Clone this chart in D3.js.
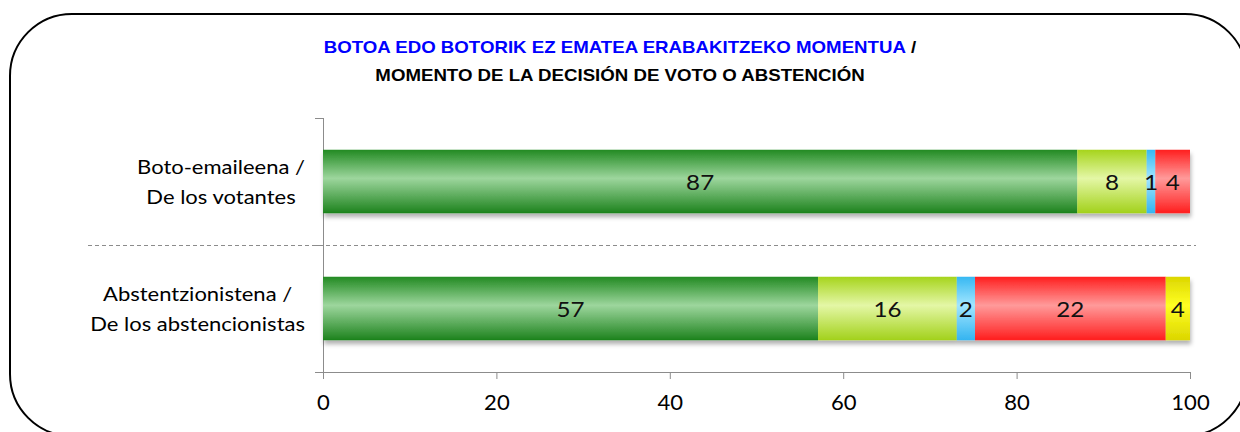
<!DOCTYPE html>
<html><head><meta charset="utf-8">
<script src="https://cdn.jsdelivr.net/npm/d3@7"></script>
<style>body{margin:0;background:#fff}svg{display:block}</style>
</head><body>
<svg id="c" width="1240" height="432"></svg>
<script>
const categories = [["Boto-emaileena /","De los votantes"],["Abstentzionistena /","De los abstencionistas"]];
const votantesValues = [87, 8, 1, 4];
const votantesLabels = ["87","8","1","4"];
const abstValues = [57.1, 16, 2.1, 22, 2.8];
const abstLabels = ["57","16","2","22","4"];
const xTicks = [0,20,40,60,80,100];
const titleBlue = "BOTOA EDO BOTORIK EZ EMATEA ERABAKITZEKO MOMENTUA";
const titleSep = " /";
const titleBlack = "MOMENTO DE LA DECISIÓN DE VOTO O ABSTENCIÓN";
const segColors = [
  ["#228a22","#9dd69d","#1c821c"],
  ["#a6d41c","#e4f7a6","#a2d11a"],
  ["#36b8f2","#a2e6ff","#34b4f0"],
  ["#ff1e1e","#ff9a9a","#ff1e1e"],
  ["#dcd600","#ffff22","#dcd600"]
];
const SX = 1.1; // horizontal stretch of the original picture's text
const LBL_FONT = "Lato, sans-serif";

const svg = d3.select("#c");
const defs = svg.append("defs");
segColors.forEach((c,i)=>{
  const g = defs.append("linearGradient").attr("id","g"+i).attr("x1",0).attr("y1",0).attr("x2",0).attr("y2",1);
  g.append("stop").attr("offset","0%").attr("stop-color",c[0]);
  g.append("stop").attr("offset","45%").attr("stop-color",c[1]);
  g.append("stop").attr("offset","100%").attr("stop-color",c[2]);
});
const f = defs.append("filter").attr("id","sh").attr("x","-5%").attr("y","-20%").attr("width","110%").attr("height","150%");
f.append("feDropShadow").attr("dx",1).attr("dy",4).attr("stdDeviation",2).attr("flood-color","#000").attr("flood-opacity",0.3);

function stretched(parent, x, y, sx){
  return parent.append("text").attr("transform",`translate(${x},${y}) scale(${sx},1)`);
}

// frame
svg.append("rect").attr("x",10).attr("y",14).attr("width",1237).attr("height",422).attr("rx",62).attr("ry",62)
  .attr("fill","none").attr("stroke","#000").attr("stroke-width",2);

// title
const t1 = stretched(svg,620,53,1.167).attr("text-anchor","middle")
  .attr("font-family","Liberation Sans, Arial, sans-serif").attr("font-weight","bold").attr("font-size",16);
t1.append("tspan").attr("fill","#0000ff").text(titleBlue);
t1.append("tspan").attr("fill","#000").text(titleSep);
stretched(svg,620,81,1.167).attr("text-anchor","middle")
  .attr("font-family","Liberation Sans, Arial, sans-serif").attr("font-weight","bold").attr("font-size",16).attr("fill","#000")
  .text(titleBlack);

const x = d3.scaleLinear().domain([0,100]).range([323,1190]);
const y = d3.scaleBand().domain(categories.map((c,i)=>i)).range([118,372]).paddingInner(0.5).paddingOuter(0.25);
const bandFull = d3.scaleBand().domain(categories.map((c,i)=>i)).range([118,372]);

// separator dashed line
svg.append("line").attr("x1",88).attr("x2",1196).attr("y1",245.5).attr("y2",245.5)
  .attr("stroke","#8c8c8c").attr("stroke-width",1).attr("stroke-dasharray","4,3");

// axes
const xAxis = svg.append("g").attr("transform","translate(0,372)")
  .call(d3.axisBottom(x).tickValues(xTicks).tickSize(7).tickSizeOuter(0));
xAxis.select(".domain").attr("stroke","#8c8c8c").attr("d","M315,0.5H1190.5");
xAxis.selectAll(".tick line").attr("stroke","#8c8c8c");
xAxis.selectAll(".tick text").remove();
xAxis.selectAll(".tick").each(function(d){
  stretched(d3.select(this),0,38,1.05).attr("text-anchor","middle").attr("font-family",LBL_FONT)
    .attr("font-size",21).attr("fill","#000").text(d);
});

const yAx = svg.append("g");
yAx.append("line").attr("x1",323.5).attr("x2",323.5).attr("y1",118).attr("y2",372).attr("stroke","#8c8c8c");
[118,245,372].forEach(v=>{
  yAx.append("line").attr("x1",315).attr("x2",323).attr("y1",v+0.5).attr("y2",v+0.5).attr("stroke","#8c8c8c");
});

// category labels
categories.forEach((lines,i)=>{
  const cy = bandFull(i) + bandFull.bandwidth()/2;
  const g = svg.append("g");
  const texts = lines.map((s,j)=> {
    const t = g.append("text").attr("font-family",LBL_FONT).attr("font-size",20)
     .attr("fill","#000").attr("text-anchor","middle").text(s);
    t.datum({y: cy + (j-0.5)*30 + 7});
    return t;
  });
  const w = d3.max(texts, t=>t.node().getComputedTextLength()) * SX;
  const right = 305;
  texts.forEach(t=>t.attr("transform",`translate(${right - w/2},${t.datum().y}) scale(${SX},1)`));
});

// bars
const series = [[votantesValues,votantesLabels],[abstValues,abstLabels]];
series.forEach(([vals,labs],i)=>{
  let acc = 0;
  const segs = vals.map((v,k)=>{ const s={x0:acc,x1:acc+v,k,label:labs[k]}; acc+=v; return s; });
  const g = svg.append("g");
  g.append("g").attr("filter","url(#sh)").selectAll("rect").data(segs).join("rect")
    .attr("x",d=>x(d.x0)).attr("width",d=>x(d.x1)-x(d.x0))
    .attr("y",y(i)).attr("height",y.bandwidth())
    .attr("fill",d=>"url(#g"+d.k+")");
  g.selectAll("text").data(segs).join("text")
    .attr("transform",d=>`translate(${(x(d.x0)+x(d.x1))/2},${y(i)+y.bandwidth()/2+8}) scale(${SX},1)`)
    .attr("text-anchor","middle").attr("font-family",LBL_FONT).attr("font-size",22).attr("fill","#111")
    .text(d=>d.label);
});
</script>
</body></html>
